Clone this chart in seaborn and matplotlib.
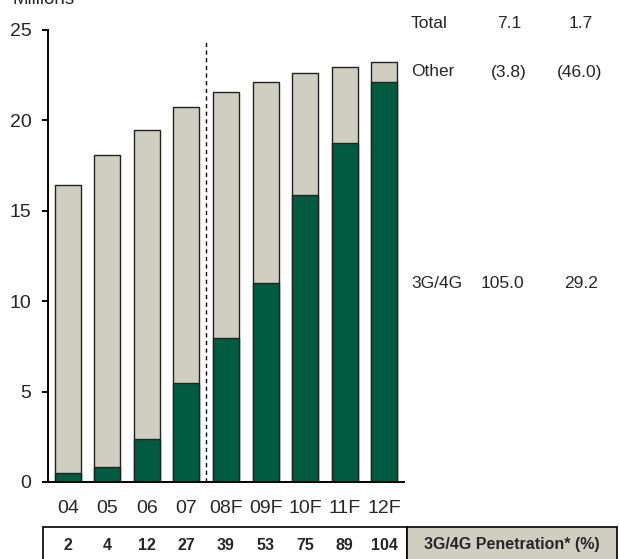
import matplotlib
matplotlib.use("Agg")
import matplotlib.pyplot as plt
import matplotlib.transforms as mtransforms
from matplotlib.patches import Rectangle
import numpy as np
import pandas as pd
import seaborn as sns

# Subscribers by year (millions)
years = ["04", "05", "06", "07", "08F", "09F", "10F", "11F", "12F"]
total_subs = [16.4, 18.1, 19.45, 20.75, 21.55, 22.12, 22.6, 22.97, 23.25]
g34_subs = [0.5, 0.85, 2.4, 5.45, 7.95, 11.0, 15.85, 18.75, 22.1]
penetration = ["2", "4", "12", "27", "39", "53", "75", "89", "104"]

# Growth figures shown at the right of the chart
row_labels = ["Total", "Other", "3G/4G"]
col1_values = ["7.1", "(3.8)", "105.0"]
col2_values = ["1.7", "(46.0)", "29.2"]

GREEN = "#005C40"
GREY = "#D0CEC0"

sns.set_style("white")
plt.rcParams["font.family"] = ["Liberation Sans", "DejaVu Sans"]

W, H = 619, 559
fig = plt.figure(figsize=(W / 100, H / 100), dpi=100)
ax = fig.add_axes([48 / W, (H - 482) / H, 356 / W, 452 / H])

df = pd.DataFrame({"year": years, "total": total_subs, "g34": g34_subs})
sns.barplot(data=df, x="year", y="total", color=GREY, width=0.66,
            edgecolor="#222222", linewidth=1.0, saturation=1, ax=ax)
sns.barplot(data=df, x="year", y="g34", color=GREEN, width=0.66,
            edgecolor="#222222", linewidth=1.0, saturation=1, ax=ax)

ax.set_xlim(-0.5, len(years) - 0.5)
ax.set_ylim(0, 25)
ax.set_xlabel("")
ax.set_ylabel("")
ax.set_yticks([0, 5, 10, 15, 20, 25])

# forecast divider between actual and forecast years
ax.plot([3.5, 3.5], [0, 24.5], color="black", lw=1.0, ls=(0, (3, 2.5)),
        clip_on=False, zorder=0.5)

for side in ["top", "right"]:
    ax.spines[side].set_visible(False)
for side in ["left", "bottom"]:
    ax.spines[side].set_linewidth(1.4)
    ax.spines[side].set_color("black")

ax.set_xticks(np.arange(len(years)))
ax.set_xticklabels(years)
ax.set_xticks(np.arange(-0.5, len(years)), minor=True)
ax.tick_params(axis="x", which="major", length=0, pad=13, labelsize=14)
ax.tick_params(axis="x", which="minor", length=4, width=1.4, direction="out",
               color="black")
ax.tick_params(axis="y", length=4, width=1.4, direction="out", color="black",
               pad=8, labelsize=14, left=True)

fig.text(12 / W, 1 - 4 / H, "Millions", fontsize=13.5, ha="left", va="baseline")

# growth table at the right
row_y = [23, 72, 283]
for lab, v1, v2, y in zip(row_labels, col1_values, col2_values, row_y):
    fy = 1 - y / H
    fig.text(411 / W, fy, lab, fontsize=12.5, ha="left", va="center")
    fig.text((502 if lab == "3G/4G" else 509) / W, fy, v1, fontsize=12.5,
             ha="center", va="center")
    fig.text((581 if lab != "Other" else 580) / W, fy, v2, fontsize=12.5,
             ha="center", va="center")

# penetration row beneath the axis
fig.patches.append(Rectangle((43 / W, -0.05), (407 - 43) / W, 0.05 + (H - 527) / H,
                             transform=fig.transFigure, facecolor="white",
                             edgecolor="black", lw=1.2, zorder=-1))
fig.patches.append(Rectangle((407 / W, -0.05), (617 - 407) / W, 0.05 + (H - 527) / H,
                             transform=fig.transFigure, facecolor=GREY,
                             edgecolor="black", lw=1.2, zorder=-1))
trans = mtransforms.blended_transform_factory(ax.transData, fig.transFigure)
for i, p in enumerate(penetration):
    ax.text(i, 1 - 545 / H, p, transform=trans, fontsize=11.5, fontweight="bold",
            ha="center", va="center", clip_on=False)
fig.text(512 / W, 1 - 545 / H, "3G/4G Penetration* (%)", fontsize=11.5,
         fontweight="bold", ha="center", va="center")

fig.savefig("out.png", dpi=100)
